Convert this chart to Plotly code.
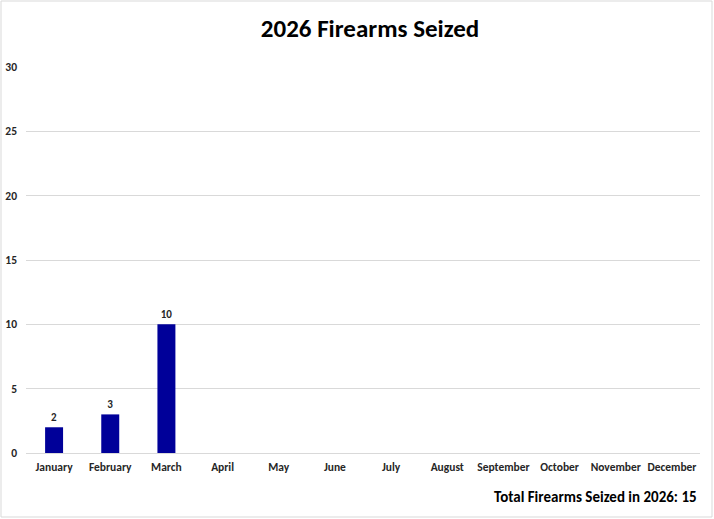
import plotly.graph_objects as go

# Data
months = ['January', 'February', 'March', 'April', 'May', 'June', 'July',
          'August', 'September', 'October', 'November', 'December']
seized = [2, 3, 10, None, None, None, None, None, None, None, None, None]
y_ticks = [0, 5, 10, 15, 20, 25, 30]
total_seized = sum(v for v in seized if v is not None)

FONT = 'Calibri, Carlito, Lato, sans-serif'
W, H = 714, 519
ML, MR, MT, MB = 26, 14, 67, 66
pw, ph = W - ML - MR, H - MT - MB

fig = go.Figure()
fig.add_trace(go.Bar(
    x=months,
    y=seized,
    marker=dict(color='#000099', line=dict(width=0)),
    text=[str(v) if v is not None else '' for v in seized],
    textposition='outside',
    texttemplate='<b>%{text}</b>',
    textfont=dict(family=FONT, size=11, color='#262626'),
    cliponaxis=False,
))

fig.update_layout(
    width=W, height=H,
    margin=dict(l=ML, r=MR, t=MT, b=MB),
    plot_bgcolor='white',
    paper_bgcolor='white',
    showlegend=False,
    bargap=0.68,
    title=dict(text='<b>2026 Firearms Seized</b>', x=370 / W, xanchor='center',
               y=1 - 28 / H, yanchor='middle',
               font=dict(family=FONT, size=25, color='black')),
    font=dict(family=FONT),
    xaxis=dict(
        tickmode='array', tickvals=months,
        ticktext=[f'<b>{m}</b>' for m in months],
        tickfont=dict(family=FONT, size=11.5, color='#262626'),
        showgrid=False, showline=False, ticks='',
        ticklabelstandoff=5, automargin=False,
    ),
    yaxis=dict(
        range=[0, 30],
        tickmode='array', tickvals=y_ticks,
        ticktext=[f'<b>{t}</b>' for t in y_ticks],
        tickfont=dict(family=FONT, size=11.5, color='#262626'),
        showgrid=True, gridcolor='#d9d9d9', gridwidth=1,
        zeroline=True, zerolinecolor='#d9d9d9', zerolinewidth=1,
        showline=False, ticks='', ticklabelstandoff=8,
        automargin=False,
    ),
    annotations=[dict(
        text=f'<b>Total Firearms Seized in 2026: {total_seized}</b>',
        xref='paper', yref='paper',
        x=(699 - ML) / pw, y=(MT + ph - 497) / ph,
        xanchor='right', yanchor='middle', showarrow=False,
        font=dict(family=FONT, size=15, color='black'),
    )],
    shapes=[dict(
        type='rect', xref='paper', yref='paper',
        x0=(1 - ML) / pw, x1=(712 - ML) / pw,
        y0=(MT + ph - 517) / ph, y1=(MT + ph - 1) / ph,
        line=dict(color='#d9d9d9', width=1), layer='below',
    )],
)

# drop the browser's default body margin so the figure sits at the page corner
fig.write_html('out.html', config={'displayModeBar': False},
               post_script="document.body.style.margin='0';")
